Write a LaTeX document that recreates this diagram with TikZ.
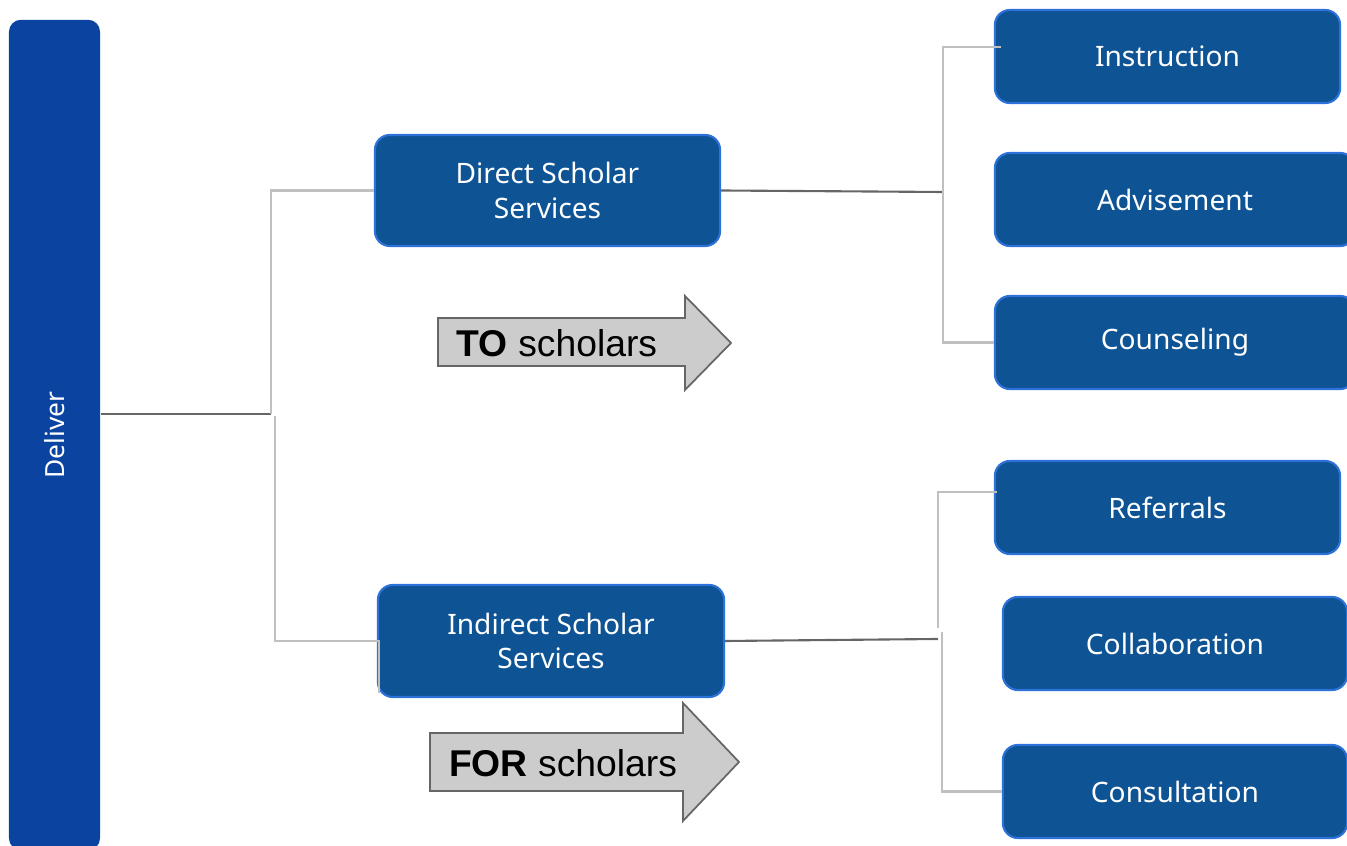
\documentclass[tikz,border=0pt]{standalone}
\usepackage{fontspec}
\setmainfont{Noto Sans}
\newfontfamily\arialfont{Liberation Sans}
\usepackage{tikz}
\usetikzlibrary{positioning}

\definecolor{deliverblue}{RGB}{10,68,160}
\definecolor{boxblue}{RGB}{14,83,148}
\definecolor{boxedge}{RGB}{45,114,217}
\definecolor{darkline}{RGB}{102,102,102}
\definecolor{lightline}{RGB}{192,192,192}
\definecolor{arrowgray}{RGB}{204,204,204}

\begin{document}
\begin{tikzpicture}[x=0.01cm,y=-0.01cm,
  svcbox/.style={draw=boxedge,fill=boxblue,text=white,line width=0.6pt,rounded corners=0.15cm,
    minimum width=3.45cm,minimum height=0.93cm,inner sep=0pt,align=center,
    font=\fontsize{8}{9.7}\selectfont},
  darkln/.style={draw=darkline,line width=0.6pt},
  lightln/.style={draw=lightline,line width=0.6pt},
  bigarrow/.style={draw=darkline,fill=arrowgray,line width=0.5pt},
  arrowtext/.style={font=\arialfont\fontsize{10.6}{12}\selectfont,inner sep=0pt}]

\useasboundingbox (0,0) rectangle (1347,846);

\node[fill=deliverblue,rounded corners=0.12cm,rotate=90,minimum width=8.3cm,minimum height=0.91cm,
  text=white,font=\fontsize{7.5}{9}\selectfont] (deliver) at (54.5,435) {Deliver};

% middle level
\node[svcbox,minimum height=1.11cm] (direct) at (547.5,190.5) {Direct Scholar\\Services};
\node[svcbox,minimum width=3.46cm,minimum height=1.12cm] (indirect) at (551,641) {Indirect Scholar\\Services};

% right column
\node[svcbox] (instr) at (1167.5,56.5) {Instruction};
\node[svcbox,minimum width=3.6cm] (advise) at (1175,199.5) {Advisement};
\node[svcbox,minimum width=3.6cm] (counsel) at (1175,342.5) {Counseling};
\node[svcbox] (refer) at (1167.5,507.5) {Referrals};
\node[svcbox,minimum width=3.44cm] (collab) at (1175,643.5) {Collaboration};
\node[svcbox,minimum width=3.44cm] (consult) at (1175,791.5) {Consultation};

% arrows
\draw[bigarrow] (438,318) -- (685,318) -- (685,296) -- (731,343) -- (685,390) -- (685,366) -- (438,366) -- cycle;
\node[arrowtext] (to) at (557,343) {\textbf{TO} scholars};
\draw[bigarrow] (430,733) -- (683,733) -- (683,703) -- (739,762) -- (683,821) -- (683,791) -- (430,791) -- cycle;
\node[arrowtext] (for) at (563,763) {\textbf{FOR} scholars};

% connectors
\coordinate (j1) at (271,414);
\coordinate (j1b) at (275,416);
\coordinate (j2) at (943,192);
\coordinate (j3) at (938,639);
\coordinate (j3a) at (938,628);
\coordinate (j3b) at (942,632);

\draw[darkln] (deliver.south |- j1) -- (j1);
\draw[lightln] (j1) |- (direct.west);
\draw[lightln] (j1b) |- ([xshift=0.6pt]indirect.west) -- ++(0,52);

\draw[darkln] (direct.east) -- (j2);
\draw[lightln] ([xshift=2pt,yshift=2.7pt]instr.west) -| (j2) |- (counsel.west);

\draw[darkln] (indirect.east) -- (j3);
\draw[lightln] ([xshift=1pt,yshift=4.4pt]refer.west) -| (j3a);
\draw[lightln] (j3b) |- (consult.west);
\end{tikzpicture}
\end{document}
